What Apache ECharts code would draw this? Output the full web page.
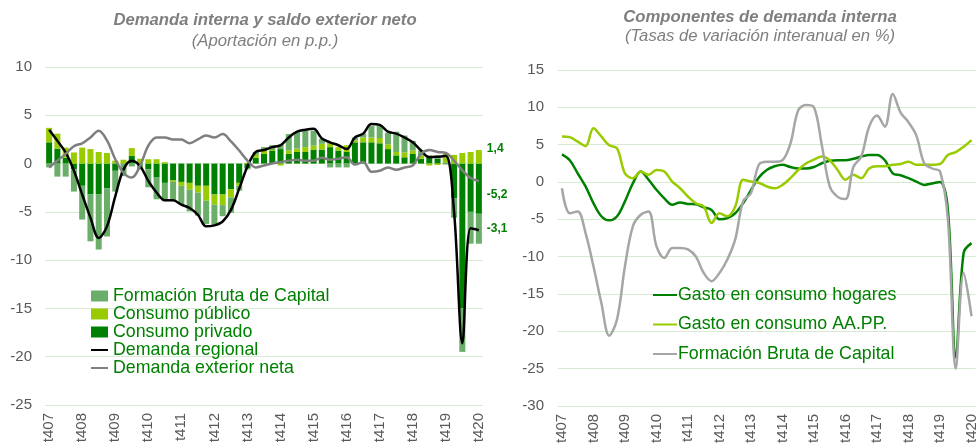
<!DOCTYPE html>
<html>
<head>
<meta charset="utf-8">
<script src="https://cdn.jsdelivr.net/npm/echarts@6/dist/echarts.min.js"></script>
<style>
  html, body { margin: 0; padding: 0; background: #fff; }
  #chart { width: 979px; height: 446px; }
</style>
</head>
<body>
<div id="chart"></div>
<script>
// trimestres (t + trimestre + año)
var categories = [
  't407',
  't108', 't208', 't308', 't408',
  't109', 't209', 't309', 't409',
  't110', 't210', 't310', 't410',
  't111', 't211', 't311', 't411',
  't112', 't212', 't312', 't412',
  't113', 't213', 't313', 't413',
  't114', 't214', 't314', 't414',
  't115', 't215', 't315', 't415',
  't116', 't216', 't316', 't416',
  't117', 't217', 't317', 't417',
  't118', 't218', 't318', 't418',
  't119', 't219', 't319', 't419',
  't120', 't220', 't320', 't420'
];

// panel izquierdo: aportaciones en p.p.
var consumoPrivado = [2.2, 1.55, 0.6, -0.6, -2.3, -3.2, -3.2, -2.55, -0.75, -0.1, 0.8, 0, -0.6, -1.45, -2.0, -1.75, -1.9, -2.0, -2.3, -2.3, -3.2, -3.2, -2.65, -2.0, -0.5, 0.6, 1.0, 1.3, 1.5, 1.0, 1.2, 1.2, 1.45, 1.45, 1.7, 1.35, 1.2, 2.2, 2.2, 2.2, 2.1, 1.5, 0.85, 0.65, 1.0, 0.5, 0.6, 0.5, 0.1, -3.6, -15.0, -5.0, -5.2];
var consumoPublico = [1.5, 1.55, 1.05, 1.15, 1.65, 1.5, 1.2, 1.1, 0.3, 0.4, 0.8, 0.5, 0.45, 0.45, 0.15, -0.15, -0.4, -0.7, -0.7, -1.55, -1.05, -1.1, -0.85, -0.3, 0.1, 0.3, 0.35, 0.1, -0.2, 0.35, 0.35, 0.5, 0.4, 0.6, 0.5, 0.35, 0.7, 0.2, 0.5, 0.5, 0.55, 0.5, 0.35, 0.5, 0.35, 0.35, -0.2, -0.15, 0.9, 0.9, 1.1, 1.2, 1.4];
var formacionCapital = [-0.4, -1.35, -1.35, -2.3, -3.5, -4.85, -5.7, -5.0, -2.15, -1.2, -0.3, -0.6, -1.85, -2.25, -1.9, -2.0, -1.9, -2.25, -2.4, -2.4, -2.1, -1.15, -1.6, -0.5, -0.1, 0.3, 0.35, 0.5, 0.5, 1.7, 1.7, 1.7, 1.55, 0.5, -0.4, -0.4, -0.4, 0.3, 0.4, 1.2, 1.3, 1.2, 2.1, 1.75, 1.0, 0.5, 0.25, 0.35, -0.1, -2.0, -4.5, -3.3, -3.1];
var demandaRegional = [3.5, 2.35, 1.15, -0.75, -3.2, -5.6, -7.7, -6.5, -3.4, -0.6, 0.3, -0.25, -1.8, -3.0, -3.8, -3.8, -4.25, -4.6, -5.3, -6.5, -6.4, -6.0, -4.8, -2.6, -0.3, 1.2, 1.4, 1.7, 1.9, 2.7, 3.3, 3.5, 3.6, 2.6, 2.2, 1.9, 1.5, 2.7, 3.1, 4.1, 4.0, 3.3, 3.1, 2.7, 2.2, 1.35, 0.65, 0.7, 0.8, -5.0, -18.6, -6.7, -6.9];
var demandaExterior = [-0.4, 0.3, 1.0, 1.8, 2.1, 2.7, 3.4, 2.4, 0.45, -0.95, -1.45, -0.25, 1.85, 2.7, 2.7, 2.5, 2.5, 2.1, 2.5, 2.9, 2.7, 3.05, 2.3, 1.35, 0.3, -0.4, -0.2, 0, 0.15, 0.3, 0.4, 0.3, 0.3, 0.6, 0.4, 0.5, 0.65, -0.1, 0.15, -0.85, -0.75, -0.4, -0.65, -0.4, -0.2, 1.0, 1.4, 1.2, 1.1, 0.3, -0.7, -1.5, -1.8];

// panel derecho: tasas de variación interanual en %
var gastoHogares = [3.7, 2.9, 1.15, -0.6, -2.85, -4.6, -5.15, -4.6, -2.6, -0.2, 1.4, 0.3, -1.05, -2.2, -3.05, -2.75, -2.95, -3.0, -3.4, -3.75, -5.0, -4.85, -4.2, -2.85, -1.1, 0.6, 1.6, 2.1, 2.3, 2.0, 1.8, 1.8, 2.0, 2.5, 2.85, 2.9, 2.9, 3.1, 3.4, 3.6, 3.6, 2.9, 1.15, 0.9, 0.5, 0.05, -0.4, -0.2, 0, -3.7, -23.5, -9.5, -8.2];
var gastoAAPP = [6.1, 6.0, 5.4, 4.8, 7.2, 6.1, 4.9, 4.5, 1.15, 0.5, 1.4, 0.95, 1.6, 1.4, 0.05, -0.85, -1.95, -2.85, -3.3, -5.5, -4.2, -4.6, -3.3, 0.3, 0.05, -0.1, -0.6, -0.85, -0.4, 0.5, 1.6, 2.5, 3.0, 3.4, 2.9, 1.6, 0.3, 0.95, 0.5, 1.8, 2.1, 2.1, 2.3, 2.4, 2.7, 2.3, 2.3, 2.3, 2.4, 3.6, 4.0, 4.7, 5.6];
var fbcTasa = [-0.85, -4.2, -3.95, -6.85, -11.3, -16.2, -20.6, -18.4, -11.3, -5.95, -4.4, -3.95, -8.6, -10.2, -8.85, -8.85, -9.05, -10.0, -12.2, -13.3, -12.2, -10.4, -7.7, -2.6, -1.5, 2.3, 2.7, 2.7, 2.9, 5.1, 9.6, 10.3, 10.0, 4.9, -0.6, -2.0, -2.3, 2.0, 3.4, 7.4, 8.9, 7.4, 11.8, 9.3, 8.0, 6.2, 2.5, 1.8, 1.4, -5.0, -25.0, -12.2, -18.0];

var FONT = '"Liberation Sans", Arial, sans-serif';
var last = categories.length - 1;

// etiqueta solo en el último trimestre
function lastLabel(offset) {
  return {
    show: true,
    position: 'right',
    distance: 5,
    offset: offset,
    color: '#008000',
    fontWeight: 'bold',
    fontSize: 12,
    fontFamily: FONT,
    formatter: function (p) {
      return p.dataIndex === last ? String(p.value.toFixed(1)).replace('.', ',') : '';
    }
  };
}

function xAxisOf(idx) {
  return {
    type: 'category',
    gridIndex: idx,
    data: categories,
    axisLine: { show: false, onZero: false },
    axisTick: { show: false },
    axisLabel: {
      interval: 3,
      rotate: 90,
      margin: 8,
      color: '#595959',
      fontSize: 15,
      fontFamily: FONT
    }
  };
}

function yAxisOf(idx, min, max, margin) {
  return {
    type: 'value',
    gridIndex: idx,
    min: min,
    max: max,
    interval: 5,
    axisLine: { show: false },
    axisTick: { show: false },
    splitLine: { lineStyle: { color: '#d9ead3', width: 1 } },
    axisLabel: { color: '#595959', fontSize: 15, fontFamily: FONT, margin: margin }
  };
}

// icono de leyenda: solo la línea, sin marcador
function lineItem(name) {
  return { name: name, itemStyle: { opacity: 0 } };
}

var titleStyle = { color: '#7f7f7f', fontSize: 16.7, fontStyle: 'italic', fontWeight: 'bold', fontFamily: FONT };
var subStyle = { color: '#7f7f7f', fontSize: 16.7, fontStyle: 'italic', fontFamily: FONT };

var myChart = echarts.init(document.getElementById('chart'));

var option = {
  backgroundColor: '#fff',
  animation: false,
  title: [{
    text: 'Demanda interna y saldo exterior neto',
    subtext: '(Aportación en p.p.)',
    left: 265,
    top: 12,
    padding: 0,
    textAlign: 'center',
    itemGap: 4,
    textStyle: titleStyle,
    subtextStyle: subStyle
  }, {
    text: 'Componentes de demanda interna',
    subtext: '(Tasas de variación interanual en %)',
    left: 760,
    top: 9,
    padding: 0,
    textAlign: 'center',
    itemGap: 2,
    textStyle: titleStyle,
    subtextStyle: subStyle
  }],
  legend: [{
    orient: 'vertical',
    left: 90,
    top: 287,
    padding: 0,
    itemGap: 0,
    itemWidth: 17,
    itemHeight: 11,
    textStyle: { color: '#008000', fontSize: 17.8, fontFamily: FONT },
    data: [
      { name: 'Formación Bruta de Capital', icon: 'rect' },
      { name: 'Consumo público', icon: 'rect' },
      { name: 'Consumo privado', icon: 'rect' },
      lineItem('Demanda regional'),
      lineItem('Demanda exterior neta')
    ]
  }, {
    orient: 'vertical',
    left: 652,
    top: 286,
    padding: 0,
    itemGap: 11.5,
    itemWidth: 24,
    itemHeight: 10,
    textStyle: { color: '#008000', fontSize: 17.8, fontFamily: FONT, padding: [0, 0, 0, -4] },
    data: [
      lineItem('Gasto en consumo hogares'),
      lineItem('Gasto en consumo AA.PP.'),
      lineItem('Formación Bruta de Capital ')
    ]
  }],
  grid: [
    { left: 45, top: 67, width: 438, height: 338 },
    { left: 558, top: 70, width: 419, height: 337 }
  ],
  xAxis: [xAxisOf(0), xAxisOf(1)],
  yAxis: [yAxisOf(0, -25, 10, 13), yAxisOf(1, -30, 15, 14)],
  series: [{
    name: 'Consumo privado',
    type: 'bar',
    stack: 'aport',
    barWidth: 6,
    itemStyle: { color: '#008000' },
    label: lastLabel([0, 6]),
    data: consumoPrivado
  }, {
    name: 'Consumo público',
    type: 'bar',
    stack: 'aport',
    barWidth: 6,
    itemStyle: { color: '#99cc00' },
    label: lastLabel([0, -8]),
    data: consumoPublico
  }, {
    name: 'Formación Bruta de Capital',
    type: 'bar',
    stack: 'aport',
    barWidth: 6,
    itemStyle: { color: '#6aae6a' },
    label: lastLabel([0, 0]),
    data: formacionCapital
  }, {
    name: 'Demanda regional',
    type: 'line',
    smooth: 0.35,
    symbol: 'none',
    lineStyle: { color: '#000', width: 2.5 },
    itemStyle: { color: '#000' },
    data: demandaRegional
  }, {
    name: 'Demanda exterior neta',
    type: 'line',
    smooth: 0.35,
    symbol: 'none',
    lineStyle: { color: '#7f7f7f', width: 2.5 },
    itemStyle: { color: '#7f7f7f' },
    data: demandaExterior
  }, {
    name: 'Gasto en consumo hogares',
    type: 'line',
    xAxisIndex: 1,
    yAxisIndex: 1,
    smooth: 0.35,
    symbol: 'none',
    lineStyle: { color: '#008000', width: 2.5 },
    itemStyle: { color: '#008000' },
    data: gastoHogares
  }, {
    name: 'Gasto en consumo AA.PP.',
    type: 'line',
    xAxisIndex: 1,
    yAxisIndex: 1,
    smooth: 0.35,
    symbol: 'none',
    lineStyle: { color: '#99cc00', width: 2.5 },
    itemStyle: { color: '#99cc00' },
    data: gastoAAPP
  }, {
    name: 'Formación Bruta de Capital ',
    type: 'line',
    xAxisIndex: 1,
    yAxisIndex: 1,
    smooth: 0.35,
    symbol: 'none',
    lineStyle: { color: '#a6a6a6', width: 2.5 },
    itemStyle: { color: '#a6a6a6' },
    data: fbcTasa
  }]
};

myChart.setOption(option);
</script>
</body>
</html>
